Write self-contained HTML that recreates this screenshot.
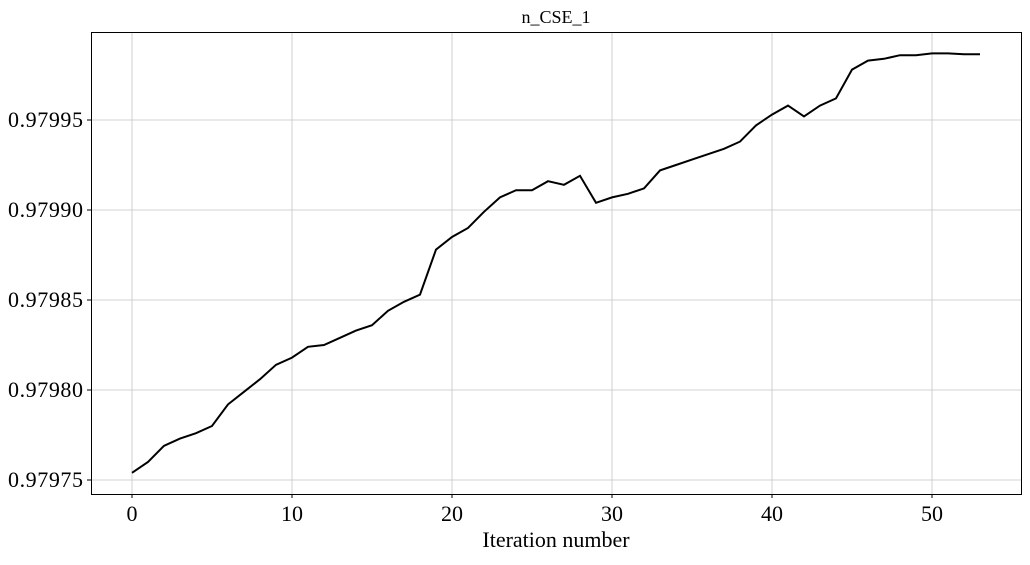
<!DOCTYPE html>
<html><head><meta charset="utf-8"><style>
body{margin:0;background:#fff;}
svg text{font-family:"Liberation Serif","DejaVu Serif",serif;fill:#000;}
</style></head><body>
<svg id="chart" width="1030" height="560" xmlns="http://www.w3.org/2000/svg">
<g id="grid"></g>
<g id="axes"></g>
<path id="line" fill="none" stroke="#000" stroke-width="2"/>
<rect x="91.5" y="32.5" width="930" height="462" fill="none" stroke="#000" stroke-width="1"/>
<text x="556" y="23" text-anchor="middle" font-size="18">n_CSE_1</text>
<text x="556" y="547" text-anchor="middle" font-size="22">Iteration number</text>
</svg>
<script>
const iterations=[0,1,2,3,4,5,6,7,8,9,10,11,12,13,14,15,16,17,18,19,20,21,22,23,24,25,26,27,28,29,30,31,32,33,34,35,36,37,38,39,40,41,42,43,44,45,46,47,48,49,50,51,52,53];
const values=[0.979754,0.97976,0.979769,0.979773,0.979776,0.97978,0.979792,0.979799,0.979806,0.979814,0.979818,0.979824,0.979825,0.979829,0.979833,0.979836,0.979844,0.979849,0.979853,0.979878,0.979885,0.97989,0.979899,0.979907,0.979911,0.979911,0.979916,0.979914,0.979919,0.979904,0.979907,0.979909,0.979912,0.979922,0.979925,0.979928,0.979931,0.979934,0.979938,0.979947,0.979953,0.979958,0.979952,0.979958,0.979962,0.979978,0.979983,0.979984,0.979986,0.979986,0.979987,0.979987,0.9799865,0.9799865];
const xTicks=[0,10,20,30,40,50];
const yTicks=[0.97975,0.9798,0.97985,0.9799,0.97995];
const yLabels=["0.97975","0.97980","0.97985","0.97990","0.97995"];
const NS="http://www.w3.org/2000/svg";
function xs(v){return 132+v*16;}
function ys(v){return 480-(v-0.97975)/0.00005*90;}
const grid=document.getElementById('grid'),axes=document.getElementById('axes');
function mk(tag,attrs,parent){const e=document.createElementNS(NS,tag);for(const k in attrs)e.setAttribute(k,attrs[k]);parent.appendChild(e);return e;}
xTicks.forEach(t=>{const x=xs(t);
 const g=mk('line',{x1:x,x2:x,y1:32,y2:494,stroke:'#c4c4c4','stroke-width':0.8},grid);
 
 
 const tk=mk('line',{x1:x,x2:x,y1:494,y2:498,stroke:'#000'},axes);
 
 
 const tx=mk('text',{x:x,y:521,'text-anchor':'middle','font-size':22},axes);tx.textContent=t;
 
 
});
yTicks.forEach((t,i)=>{const y=ys(t);
 const g=mk('line',{x1:91,x2:1021,y1:y,y2:y,stroke:'#c4c4c4','stroke-width':0.8},grid);
 
 
 const tk=mk('line',{x1:87,x2:91,y1:y,y2:y,stroke:'#000'},axes);
 
 
 const tx=mk('text',{x:83,y:y+7,'text-anchor':'end','font-size':22,'textLength':75},axes);tx.textContent=yLabels[i];
 
 
});
document.getElementById('line').setAttribute('d',values.map((v,i)=>(i?'L':'M')+xs(iterations[i])+','+ys(v)).join(' '));
</script>
</body></html>
